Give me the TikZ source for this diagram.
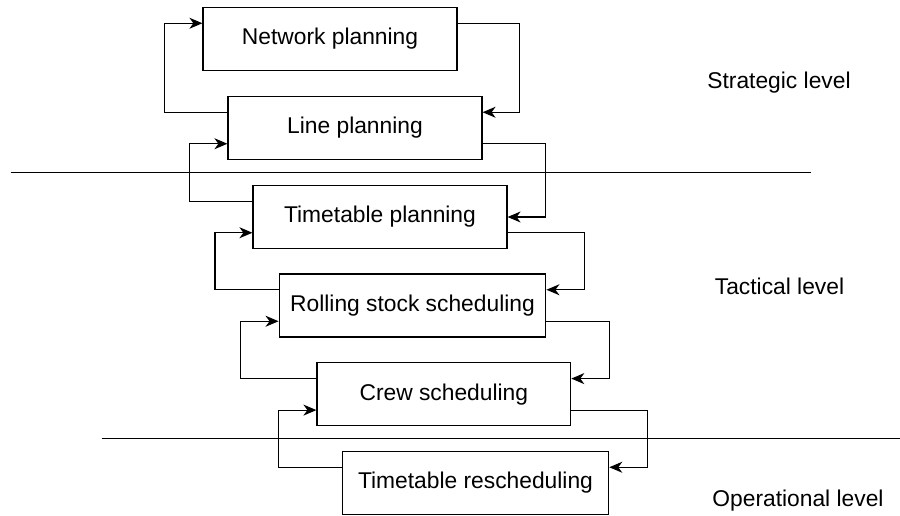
\documentclass[tikz,border=0pt]{standalone}
\usepackage{fontspec}
\setmainfont{Liberation Sans}
\usetikzlibrary{arrows.meta,calc}
\begin{document}
\begin{tikzpicture}[x=1pt,y=-1pt,
  box/.style={draw, line width=1.2pt, minimum height=63pt, inner sep=0pt, font=\fontsize{22.8}{27}\selectfont},
  conn/.style={line width=1.2pt, -{Stealth[length=13pt,width=11pt,inset=4pt]}},
  sep/.style={line width=1.2pt},
  lvl/.style={font=\fontsize{22.8}{27}\selectfont}]
\useasboundingbox (0,0) rectangle (900,516);
\node[box, minimum width=254pt] (net) at (330,39) {Network planning};
\node[box, minimum width=254pt] (line) at (355,128) {Line planning};
\node[box, minimum width=254pt] (tt) at (380,217) {Timetable planning};
\node[box, minimum width=266.7pt] (rs) at (412.5,305.5) {Rolling stock scheduling};
\node[box, minimum width=253.7pt] (crew) at (443.85,394.35) {Crew scheduling};
\node[box, minimum width=266.4pt] (rr) at (475.5,483) {Timetable rescheduling};

\node[lvl] (strat) at (779,83) {Strategic level};
\node[lvl] (tact) at (779.5,286) {Tactical level};
\node[lvl] (oper) at (798,501) {Operational level};

\coordinate (s1a) at (10.7,172.7);
\coordinate (s1b) at (811,172.7);
\coordinate (s2a) at (101.7,438.7);
\coordinate (s2b) at (900,438.7);
\draw[sep] (s1a) -- (s1b);
\draw[sep] (s2a) -- (s2b);

\draw[conn] ($(net.east)+(0,-15.75)$) -- ++(62,0) |- ($(line.east)+(0,-15.75)$);
\draw[conn] ($(line.west)+(0,-15.75)$) -- ++(-63,0) |- ($(net.west)+(0,-15.75)$);

\draw[conn] ($(line.east)+(0,15.75)$) -- ++(63,0) |- (tt.east);
\draw[conn] ($(tt.west)+(0,-15.75)$) -- ++(-62.6,0) |- ($(line.west)+(0,15.75)$);

\draw[conn] ($(tt.east)+(0,15.75)$) -- ++(76.6,0) |- ($(rs.east)+(0,-15.75)$);
\draw[conn] ($(rs.west)+(0,-15.75)$) -- ++(-63.5,0) |- ($(tt.west)+(0,15.75)$);

\draw[conn] ($(rs.east)+(0,15.75)$) -- ++(62.85,0) |- ($(crew.east)+(0,-15.75)$);
\draw[conn] ($(crew.west)+(0,-15.75)$) -- ++(-76,0) |- ($(rs.west)+(0,15.75)$);

\draw[conn] ($(crew.east)+(0,15.75)$) -- ++(75.85,0) |- ($(rr.east)+(0,-15.75)$);
\draw[conn] ($(rr.west)+(0,-15.75)$) -- ++(-63,0) |- ($(crew.west)+(0,15.75)$);
\end{tikzpicture}
\end{document}
